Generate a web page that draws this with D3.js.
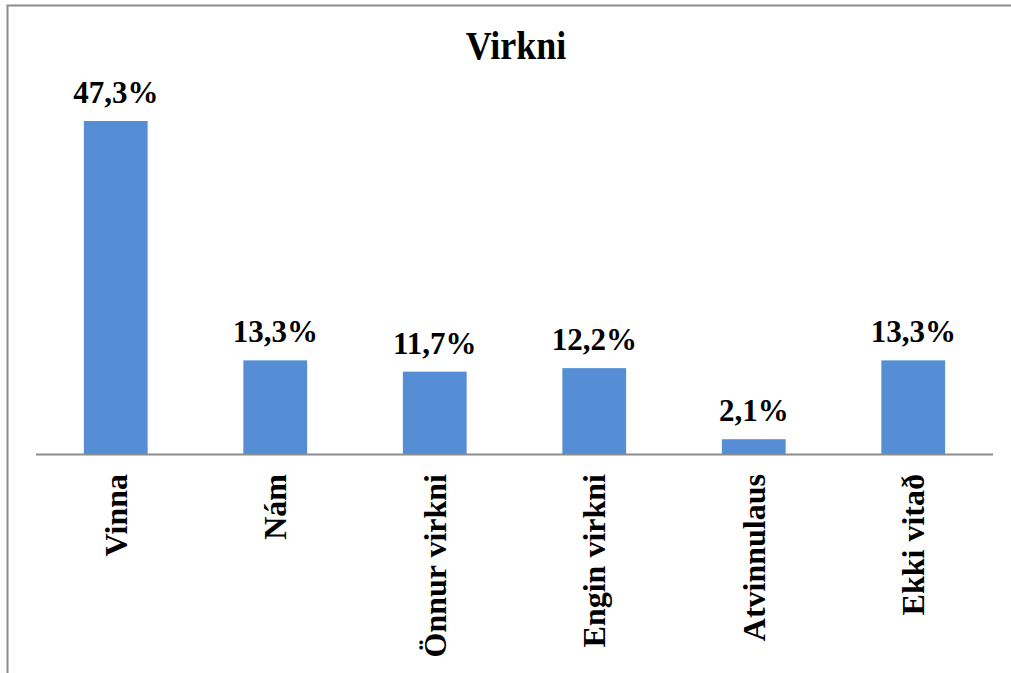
<!DOCTYPE html>
<html>
<head>
<meta charset="utf-8">
<script src="https://cdn.jsdelivr.net/npm/d3@7"></script>
<style>
  html, body { margin: 0; padding: 0; background: #fff; }
  svg { display: block; }
</style>
</head>
<body>
<div id="chart"></div>
<script>
const categories = ["Vinna", "Nám", "Önnur virkni", "Engin virkni", "Atvinnulaus", "Ekki vitað"];
const values = [47.3, 13.3, 11.7, 12.2, 2.1, 13.3];
const title = "Virkni";

const width = 1011, height = 673;
const margin = {left: 36, right: 18, top: 102, bottom: 219};
const serif = '"Liberation Serif", serif';

const svg = d3.select("#chart").append("svg")
  .attr("width", width)
  .attr("height", height)
  .attr("font-family", serif)
  .attr("font-weight", "bold");

// frame (top + left edges visible in reference)
svg.append("path")
  .attr("d", `M7.5,${height} V5.5 H${width}`)
  .attr("fill", "none")
  .attr("stroke", "#8c8c8c")
  .attr("stroke-width", 2);

const x = d3.scaleBand()
  .domain(categories)
  .range([margin.left, width - margin.right])
  .paddingInner(0.6)
  .paddingOuter(0.3);

const y = d3.scaleLinear()
  .domain([0, 50])
  .range([height - margin.bottom, margin.top]);

const data = categories.map((c, i) => ({cat: c, val: values[i]}));

svg.append("g").selectAll("rect")
  .data(data)
  .join("rect")
  .attr("x", d => x(d.cat))
  .attr("y", d => y(d.val))
  .attr("width", x.bandwidth())
  .attr("height", d => y(0) - y(d.val))
  .attr("fill", "#558ed5");

svg.append("g").selectAll("text")
  .data(data)
  .join("text")
  .attr("x", d => x(d.cat) + x.bandwidth() / 2)
  .attr("y", d => y(d.val) - 18)
  .attr("text-anchor", "middle")
  .attr("font-family", serif)
  .attr("font-size", 31)
  .text(d => d.val.toFixed(1).replace(".", ",") + "%");

const xAxis = d3.axisBottom(x).tickSize(0).tickPadding(0);
const gX = svg.append("g")
  .attr("transform", `translate(0,${y(0)})`)
  .call(xAxis)
  .attr("font-family", serif)
  .attr("font-size", 32);
gX.select(".domain")
  .attr("d", `M${margin.left},0.5H${width - margin.right}`)
  .attr("stroke", "#8c8c8c")
  .attr("stroke-width", 2);
gX.selectAll(".tick text")
  .attr("fill", "#000")
  .attr("transform", "rotate(-90)")
  .attr("text-anchor", "end")
  .attr("x", -20)
  .attr("y", 0)
  .attr("dy", "0.35em");

svg.append("text")
  .attr("transform", "translate(516,59) scale(1,1.1)")
  .attr("text-anchor", "middle")
  .attr("font-family", serif)
  .attr("font-size", 36)
  .text(title);
</script>
</body>
</html>
